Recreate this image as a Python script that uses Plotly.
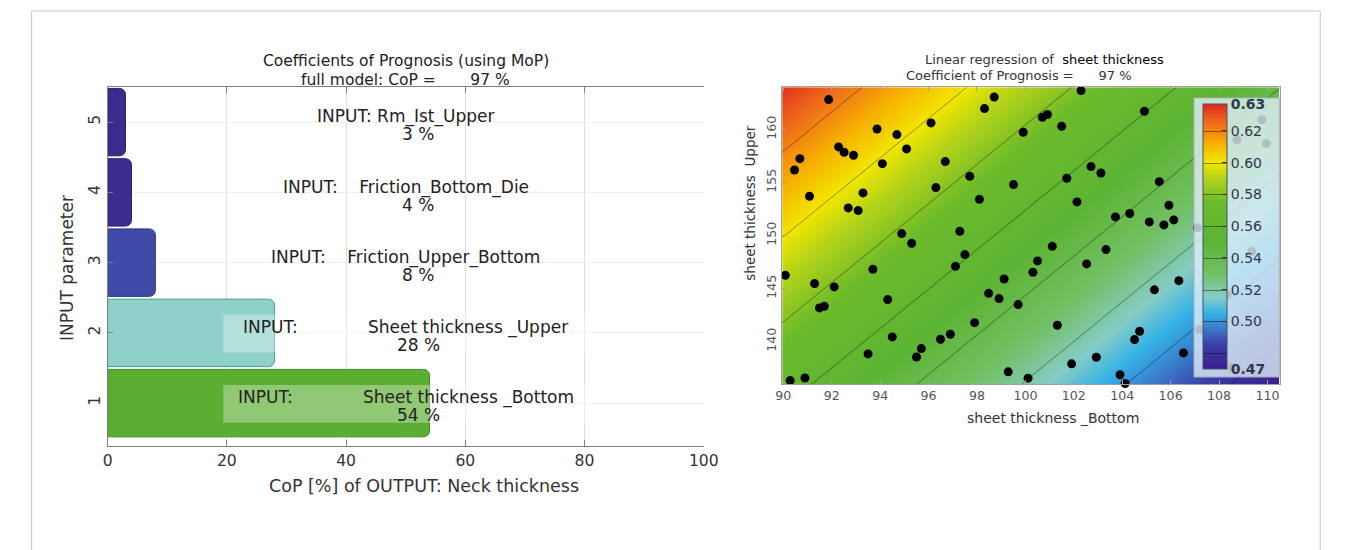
import numpy as np
import plotly.graph_objects as go

W, H = 1351, 550
FONT = "DejaVu Sans, Verdana, sans-serif"
NB = "\u00a0"

# ---------------- left chart data ----------------
param_index = [1, 2, 3, 4, 5]
cop_values = [54, 28, 8, 4, 3]
param_names = ["Sheet thickness _Bottom", "Sheet thickness _Upper",
               "Friction_Upper_Bottom", "Friction_Bottom_Die", "Rm_Ist_Upper"]
label_gaps = [13, 13, 4, 4, 1]
bar_colors = ["#5aae31", "#8fd1c9", "#3e4ba8", "#3b2d8f", "#3b2b8d"]
bar_edges = ["#3f8a28", "#3f9e90", "#2c3380", "#2a1f70", "#2a1f70"]
full_model_cop = 97
left_xticks = [0, 20, 40, 60, 80, 100]

# ---------------- right chart data ----------------
x_bottom = [91.87, 98.31, 96.10, 93.87, 94.69, 92.28, 92.51, 92.90, 90.68, 95.09, 90.46,
            94.09, 96.69, 97.70, 91.08, 93.29, 96.30, 98.10, 92.68, 93.09, 94.89, 97.29,
            98.71, 102.30, 100.70, 100.91, 99.91, 101.50, 104.92, 99.51, 101.71, 102.71,
            103.12, 102.13, 105.53, 105.93, 103.72, 104.31, 105.12, 105.72, 106.13,
            90.08, 91.29, 92.10, 93.70, 91.49, 91.69, 94.31, 95.30, 97.50, 97.11, 98.48,
            94.50, 93.50, 95.50, 95.70, 96.49, 96.90, 97.90, 90.28, 90.89,
            101.11, 100.50, 100.31, 99.12, 98.91, 99.70, 102.53, 103.33, 101.32, 105.33,
            106.34, 104.72, 104.51, 102.93, 101.91, 99.29, 100.11, 103.91, 104.12, 106.53,
            106.74,
            109.76, 108.74, 109.96, 107.11, 109.35, 108.33, 107.20, 108.54]
y_upper = [162.83, 161.98, 160.63, 160.06, 159.53, 158.37, 157.86, 157.58, 157.26, 158.18, 156.19,
           156.79, 156.98, 155.59, 153.71, 154.03, 154.53, 153.42, 152.61, 152.36, 150.19, 150.41,
           163.08, 163.68, 161.16, 161.42, 159.75, 160.31, 161.73, 154.81, 155.41, 156.51,
           155.91, 153.18, 155.09, 152.86, 151.76, 152.08, 151.29, 151.01, 151.48,
           146.25, 145.47, 145.16, 146.82, 143.18, 143.33, 143.96, 149.27, 148.21, 147.10, 144.55,
           140.44, 138.84, 138.55, 139.34, 140.22, 140.69, 141.79, 136.32, 136.57,
           148.99, 147.61, 146.54, 145.91, 144.06, 143.49, 147.33, 148.68, 141.54, 144.88,
           145.75, 140.98, 140.19, 138.52, 137.90, 137.15, 136.55, 136.87, 136.05, 138.93,
           135.89,
           160.94, 159.06, 158.68, 150.75, 148.49, 144.43, 141.13, 137.55]

# linear regression model of the output (read from the colour field / contour lines)
reg_intercept = 0.64345
reg_coef_bottom = -0.00462
reg_coef_upper = 0.002484
out_min, out_max = 0.470, 0.637
contour_start, contour_end, contour_step = 0.48, 0.62, 0.02
x_range_right = [89.95, 110.5]
y_range_right = [136.0, 164.0]
right_xticks = list(range(90, 111, 2))
right_yticks = [140, 145, 150, 155, 160]
cb_tickvals = [0.470, 0.50, 0.52, 0.54, 0.56, 0.58, 0.60, 0.62, 0.637]
cb_ticktext = ["<b>0.47</b>", "0.50", "0.52", "0.54", "0.56", "0.58", "0.60", "0.62", "<b>0.63</b>"]
regression_cop = 97

colorscale = [
    [0.00, "#3b1c8c"], [0.09, "#3c3da6"], [0.15, "#3a78c8"], [0.21, "#35b2e6"],
    [0.27, "#86ccc6"], [0.36, "#72c064"], [0.48, "#5cb434"], [0.63, "#6cbb2a"],
    [0.72, "#b5d31a"], [0.78, "#f2e600"], [0.85, "#f7b000"], [0.93, "#ef6a1a"],
    [1.00, "#e0281e"],
]


def px(x):
    return x / W


def py(y):
    return 1 - y / H


fig = go.Figure()

# ---------------- left: bar chart ----------------
fig.add_trace(go.Bar(
    x=cop_values, y=param_index, orientation="h", width=0.96,
    marker=dict(color=bar_colors, line=dict(color=bar_edges, width=1), cornerradius=6),
    xaxis="x", yaxis="y", hoverinfo="skip", showlegend=False,
))

# ---------------- right: regression surface + samples ----------------
gx = np.linspace(x_range_right[0], x_range_right[1], 220)
gy = np.linspace(y_range_right[0], y_range_right[1], 160)
GX, GY = np.meshgrid(gx, gy)
GZ = reg_intercept + reg_coef_bottom * GX + reg_coef_upper * GY

fig.add_trace(go.Contour(
    x=gx, y=gy, z=GZ, xaxis="x2", yaxis="y2",
    colorscale=colorscale, zmin=out_min, zmax=out_max, zauto=False,
    contours=dict(start=contour_start, end=contour_end, size=contour_step, coloring="heatmap"),
    line=dict(color="rgba(0,0,0,0.42)", width=1),
    hoverinfo="skip",
    colorbar=dict(
        x=px(1208), xanchor="left", xpad=8, y=py(236.5), yanchor="middle", ypad=6,
        len=277, lenmode="pixels", thickness=24, thicknessmode="pixels",
        bgcolor="rgba(222,238,246,0.80)", bordercolor="#a9b1ba", borderwidth=1,
        outlinecolor="#4a4f66", outlinewidth=1,
        tickvals=cb_tickvals, ticktext=cb_ticktext, ticks="inside", ticklen=5,
        tickcolor="#333", tickfont=dict(family=FONT, size=14, color="#2f3748"),
    ),
))

fig.add_trace(go.Scatter(
    x=x_bottom, y=y_upper, mode="markers", xaxis="x2", yaxis="y2",
    marker=dict(color="black", size=9), cliponaxis=False, hoverinfo="skip", showlegend=False,
))

axis_common = dict(showline=True, ticks="inside", mirror="ticks", zeroline=False)

fig.update_layout(
    width=W, height=H, margin=dict(l=0, r=0, t=0, b=0),
    paper_bgcolor="white", plot_bgcolor="white", showlegend=False,
    font=dict(family=FONT, color="#222"),
    xaxis=dict(domain=[px(102.3), px(708.3)], range=[0, 100], tickvals=left_xticks,
               linecolor="#808080", tickcolor="#808080", ticklen=6,
               showgrid=True, gridcolor="#dedede",
               tickfont=dict(family=FONT, size=15.6, color="#333"), anchor="y", **axis_common),
    yaxis=dict(domain=[py(446), py(87)], range=[0.39, 5.5], tickvals=param_index,
               tickangle=-90, linecolor="#808080", tickcolor="#808080", ticklen=5,
               showgrid=True, gridcolor="#efefef",
               tickfont=dict(family=FONT, size=15.6, color="#333"), anchor="x",
               showline=True, ticks="inside", zeroline=False),
    xaxis2=dict(domain=[px(788), px(1293.6)], range=x_range_right, tickvals=right_xticks,
                linecolor="#a0a0a0", tickcolor="#a0a0a0", ticklen=4, showgrid=False,
                tickfont=dict(family=FONT, size=12.6, color="#555"), anchor="y2", **axis_common),
    yaxis2=dict(domain=[py(384), py(87.2)], range=y_range_right, tickvals=right_yticks,
                tickangle=-90, linecolor="#a0a0a0", tickcolor="#a0a0a0", ticklen=4, showgrid=False,
                tickfont=dict(family=FONT, size=12.6, color="#555"), anchor="x2", **axis_common),
)

ann = []
# left titles
ann.append(dict(text="Coefficients of Prognosis (using MoP)", x=px(406), y=py(61),
                xref="paper", yref="paper", xanchor="center", yanchor="middle",
                showarrow=False, font=dict(size=15.5, color="#222")))
ann.append(dict(text="full model: CoP =" + NB * 7 + f"{full_model_cop} %", x=px(405), y=py(80),
                xref="paper", yref="paper", xanchor="center", yanchor="middle",
                showarrow=False, font=dict(size=15.5, color="#222")))
# left axis titles
ann.append(dict(text="CoP [%] of OUTPUT: Neck thickness", x=px(424), y=py(486),
                xref="paper", yref="paper", xanchor="center", yanchor="middle",
                showarrow=False, font=dict(size=17.5, color="#333")))
ann.append(dict(text="INPUT parameter", x=px(61), y=py(268), textangle=-90,
                xref="paper", yref="paper", xanchor="center", yanchor="middle",
                showarrow=False, font=dict(size=17, color="#333")))
# bar labels
shapes = []
for cat, val, name, gap in zip(param_index, cop_values, param_names, label_gaps):
    ann.append(dict(text="INPUT:" + NB * gap + name, x=50.0, y=cat + 0.075, xref="x", yref="y",
                    xanchor="center", yanchor="middle", showarrow=False,
                    font=dict(size=17, color="#222")))
    ann.append(dict(text=f"{val} %", x=52.1, y=cat - 0.175, xref="x", yref="y",
                    xanchor="center", yanchor="middle", showarrow=False,
                    font=dict(size=17, color="#222")))
    if val > 19.5:
        shapes.append(dict(type="rect", xref="x", yref="y", x0=19.4, x1=81, y0=cat - 0.28,
                           y1=cat + 0.26, fillcolor="rgba(255,255,255,0.33)", line=dict(width=0),
                           layer="above"))

# right titles
ann.append(dict(text="Linear regression of  <span style='color:#000'>sheet thickness</span>",
                x=px(931), y=py(59), xref="paper", yref="paper", xanchor="left",
                yanchor="middle", showarrow=False, font=dict(size=13, color="#333")))
ann.append(dict(text="Coefficient of Prognosis =" + NB * 6 + f"{regression_cop} %",
                x=px(912), y=py(75), xref="paper", yref="paper", xanchor="left",
                yanchor="middle", showarrow=False, font=dict(size=13, color="#333")))
ann.append(dict(text="sheet thickness _Bottom", x=px(1063.5), y=py(418.3),
                xref="paper", yref="paper", xanchor="center", yanchor="middle",
                showarrow=False, font=dict(size=14, color="#333")))
ann.append(dict(text="sheet thickness  Upper", x=px(755), y=py(203), textangle=-90,
                xref="paper", yref="paper", xanchor="center", yanchor="middle",
                showarrow=False, font=dict(size=13.5, color="#333")))

# outer frame
shapes.append(dict(type="rect", xref="paper", yref="paper", x0=px(25), x1=px(1335),
                   y0=-0.2, y1=py(11), line=dict(color="#c9c9c9", width=1),
                   fillcolor="rgba(0,0,0,0)", layer="below"))

fig.update_layout(annotations=ann, shapes=shapes)
fig.write_html("out.html")
